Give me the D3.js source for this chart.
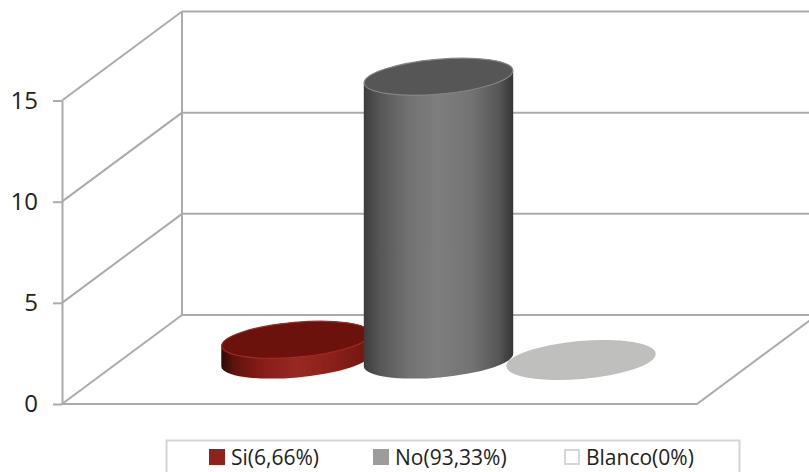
<!DOCTYPE html>
<html>
<head>
<meta charset="utf-8">
<script src="https://cdn.jsdelivr.net/npm/d3@7/dist/d3.min.js"></script>
<style>
  html, body { margin: 0; padding: 0; background: #fff; }
  svg { display: block; }
  text { font-family: "Open Sans", sans-serif; fill: #222; }
</style>
</head>
<body>
<svg id="chart" width="809" height="472"></svg>
<script>
// Survey responses
const categories = ["Si", "No", "Blanco"];
const counts = [1, 14, 0];
const legendLabels = ["Si(6,66%)", "No(93,33%)", "Blanco(0%)"];
const tickValues = [0, 5, 10, 15];

const width = 809, height = 472;
const svg = d3.select("#chart");
const gridColor = "#ababab";

// Front edge of the box and its receding depth
const frontLeft = 62, frontRight = 697, depthX = 120, depthY = 89;

const yFront = d3.scaleLinear().domain([0, 15]).range([404, 100.5]);
const yBack = v => yFront(v) - depthY;
const xCenter = d3.scalePoint().domain(categories).range([296, 581]);

const baseY = 360, rx = 75, ry = 17.5, tilt = -5;

const walls = svg.append("g")
  .attr("fill", "none").attr("stroke", gridColor).attr("stroke-width", 2);

// Back wall gridlines and the diagonals on the side wall
tickValues.forEach(v => {
  walls.append("line")
    .attr("x1", frontLeft + depthX).attr("x2", width + 5)
    .attr("y1", yBack(v)).attr("y2", yBack(v));
  walls.append("line")
    .attr("x1", frontLeft).attr("x2", frontLeft + depthX)
    .attr("y1", yFront(v)).attr("y2", yBack(v));
});
walls.append("line")
  .attr("x1", frontLeft + depthX).attr("x2", frontLeft + depthX)
  .attr("y1", yBack(15)).attr("y2", yBack(0));
// Front and right edges of the floor
walls.append("path")
  .attr("d", d3.line()([
    [frontLeft, yFront(0)],
    [frontRight, yFront(0)],
    [frontRight + depthX, yBack(0)]
  ]));

// Value axis along the front of the side wall
const axis = svg.append("g")
  .attr("transform", `translate(${frontLeft},0)`)
  .call(d3.axisLeft(yFront).tickValues(tickValues).tickSize(9).tickPadding(15).tickSizeOuter(0));
axis.selectAll("path, line").attr("stroke", gridColor).attr("stroke-width", 2);
axis.selectAll("text")
  .attr("font-family", '"Open Sans", sans-serif')
  .attr("font-size", 24).attr("fill", "#222");

// Horizontal shading across the cylinder bodies
const defs = svg.append("defs");
function bodyGradient(id, stops) {
  const g = defs.append("linearGradient").attr("id", id)
    .attr("x1", "0%").attr("x2", "100%").attr("y1", "0%").attr("y2", "0%");
  stops.forEach(([o, c]) => g.append("stop").attr("offset", o).attr("stop-color", c));
}
bodyGradient("grad-si", [[0, "#2a0a06"], [0.08, "#5e120d"], [0.25, "#831c16"], [0.5, "#982822"], [0.75, "#8b2019"], [1, "#70150f"]]);
bodyGradient("grad-no", [[0, "#3c3c3c"], [0.1, "#555555"], [0.3, "#727272"], [0.5, "#7e7e7e"], [0.72, "#737373"], [0.9, "#575757"], [1, "#353535"]]);

const fills = {
  Si: { body: "url(#grad-si)", top: "#6c120c", rim: "#a02c24" },
  No: { body: "url(#grad-no)", top: "#565656", rim: "#858585" }
};

const rad = tilt * Math.PI / 180;
// Extreme points of the tilted ellipse, relative to its centre
const edgeX = rx * Math.cos(rad), edgeY = rx * Math.sin(rad);

function drawCylinder(name, value) {
  const cx = xCenter(name);
  const h = yFront(0) - yFront(value);
  const g = svg.append("g").attr("class", "cyl");
  if (value === 0) {
    // An empty category leaves only its footprint on the floor
    g.append("ellipse")
      .attr("rx", rx).attr("ry", ry + 1.5)
      .attr("transform", `translate(${cx},${baseY}) rotate(${tilt})`)
      .attr("fill", "#bfbfbe");
    return;
  }
  const topY = baseY - h;
  const f = fills[name];
  g.append("path")
    .attr("d", `M${cx - edgeX},${topY - edgeY}
      L${cx - edgeX},${baseY - edgeY}
      A${rx},${ry} ${tilt} 0 0 ${cx + edgeX},${baseY + edgeY}
      L${cx + edgeX},${topY + edgeY}
      A${rx},${ry} ${tilt} 0 0 ${cx - edgeX},${topY - edgeY}Z`)
    .attr("fill", f.body);
  g.append("ellipse")
    .attr("rx", rx - 0.5).attr("ry", ry)
    .attr("transform", `translate(${cx},${topY}) rotate(${tilt})`)
    .attr("fill", f.top).attr("stroke", f.rim).attr("stroke-width", 1.2);
}

// Painted back to front so the tallest cylinder overlaps its neighbours
drawCylinder("Si", counts[0]);
drawCylinder("Blanco", counts[2]);
drawCylinder("No", counts[1]);

// Legend, cut by the lower edge of the page
svg.append("rect")
  .attr("x", 166.5).attr("y", 440.5).attr("width", 573).attr("height", 60)
  .attr("fill", "#fff").attr("stroke", "#d4d4d4").attr("stroke-width", 2);

const legendX = [209, 373, 564];
const swatchColors = ["#91221b", "#9c9c9c", "#ffffff"];
const swatchStroke = ["none", "none", "#d6d6d6"];
const legend = svg.append("g").selectAll("g").data(legendLabels).join("g")
  .attr("transform", (d, i) => `translate(${legendX[i]},449)`);
legend.append("rect")
  .attr("x", (d, i) => i === 2 ? 1 : 0).attr("y", (d, i) => i === 2 ? 1 : 0)
  .attr("width", (d, i) => i === 2 ? 14 : 16).attr("height", (d, i) => i === 2 ? 14 : 16)
  .attr("fill", (d, i) => swatchColors[i])
  .attr("stroke", (d, i) => swatchStroke[i]).attr("stroke-width", 2);
legend.append("text")
  .attr("x", 22).attr("y", 16)
  .attr("font-size", 21)
  .text(d => d);
</script>
</body>
</html>
